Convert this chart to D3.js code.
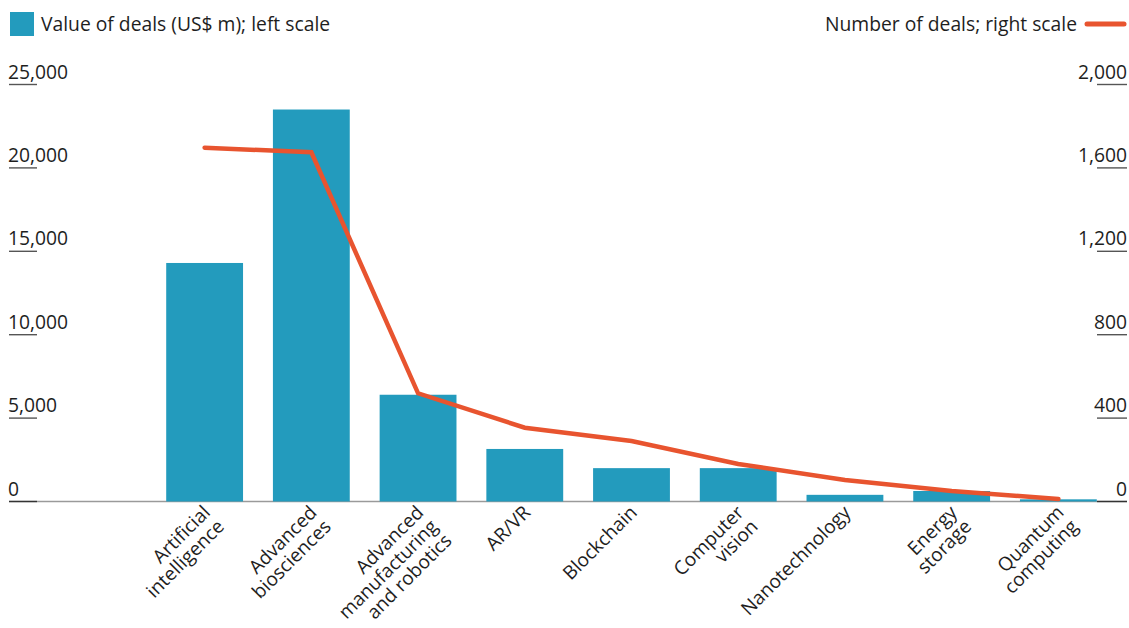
<!DOCTYPE html>
<html>
<head>
<meta charset="utf-8">
<script src="https://cdn.jsdelivr.net/npm/d3@7"></script>
<style>
  html, body { margin: 0; padding: 0; background: #fff; }
  svg { display: block; font-family: "Open Sans", "Noto Sans", sans-serif; }
  text { fill: #1e1e1e; }
</style>
</head>
<body>
<svg id="chart" width="1129" height="628"></svg>
<script>
// Emerging-technology deals by field
const categories = [
  ["Artificial", "intelligence"],
  ["Advanced", "biosciences"],
  ["Advanced", "manufacturing", "and robotics"],
  ["AR/VR"],
  ["Blockchain"],
  ["Computer", "vision"],
  ["Nanotechnology"],
  ["Energy", "storage"],
  ["Quantum", "computing"]
];
const dealValues = [14300, 23500, 6400, 3150, 2000, 2000, 400, 630, 130];   // US$ m, left scale
const dealCounts = [1697, 1675, 519, 354, 290, 180, 103, 50, 12];          // number, right scale
const leftTicks = [0, 5000, 10000, 15000, 20000, 25000];
const rightTicks = [0, 400, 800, 1200, 1600, 2000];

const barColor = "#239bbd";
const lineColor = "#e8542f";
const fs = 19.3;

const svg = d3.select("#chart");
const keys = categories.map(d => d.join(" "));

const x = d3.scaleBand()
  .domain(keys)
  .range([163, 1100])
  .paddingInner(0.28)
  .paddingOuter(0.03);

const yL = d3.scaleLinear().domain([0, 25000]).range([501.5, 84.5]);
const yR = d3.scaleLinear().domain([0, 2000]).range([501.5, 84.5]);

const fmt = d3.format(",");

// baseline
svg.append("line")
  .attr("x1", 9).attr("x2", 1127)
  .attr("y1", yL(0)).attr("y2", yL(0))
  .attr("stroke", "#9a9a9a").attr("stroke-width", 1.6);

// left axis: labels sitting on short tick rules
const left = svg.append("g").selectAll("g").data(leftTicks).join("g")
  .attr("transform", d => `translate(0,${yL(d)})`);
left.append("line")
  .attr("x1", 9).attr("x2", 37)
  .attr("stroke", d => d === 0 ? "#333" : "#555").attr("stroke-width", 1.4);
left.append("text")
  .attr("x", 8).attr("y", -6)
  .attr("font-size", fs)
  .text(d => fmt(d));

// right axis
const right = svg.append("g").selectAll("g").data(rightTicks).join("g")
  .attr("transform", d => `translate(0,${yR(d)})`);
right.append("line")
  .attr("x1", 1097).attr("x2", 1127)
  .attr("stroke", d => d === 0 ? "#333" : "#555").attr("stroke-width", 1.4);
right.append("text")
  .attr("x", 1127).attr("y", -6)
  .attr("text-anchor", "end")
  .attr("font-size", fs)
  .text(d => fmt(d));

// bars
svg.append("g").selectAll("rect").data(dealValues).join("rect")
  .attr("x", (d, i) => x(keys[i]))
  .attr("width", x.bandwidth())
  .attr("y", d => yL(d))
  .attr("height", d => yL(0) - yL(d))
  .attr("fill", barColor);

// number-of-deals line
const line = d3.line()
  .x((d, i) => x(keys[i]) + x.bandwidth() / 2)
  .y(d => yR(d));
svg.append("path")
  .datum(dealCounts)
  .attr("d", line)
  .attr("fill", "none")
  .attr("stroke", lineColor)
  .attr("stroke-width", 4.5)
  .attr("stroke-linejoin", "miter")
  .attr("stroke-linecap", "round");

// category labels, rotated
const lab = svg.append("g").selectAll("text").data(categories).join("text")
  .attr("transform", (d, i) => `translate(${x(keys[i]) + x.bandwidth() / 2 - 3},${504}) rotate(-45)`)
  .attr("text-anchor", "end")
  .attr("font-size", 19);
lab.each(function (lines) {
  const t = d3.select(this);
  lines.forEach((s, j) => {
    t.append("tspan")
      .attr("x", 0)
      .attr("dy", j === 0 ? "0.72em" : "1.05em")
      .text(s);
  });
});

// legend
svg.append("rect").attr("x", 10).attr("y", 12).attr("width", 24).attr("height", 24).attr("fill", barColor);
svg.append("text").attr("x", 41).attr("y", 31).attr("font-size", fs).text("Value of deals (US$ m); left scale");
svg.append("line")
  .attr("x1", 1087).attr("x2", 1124).attr("y1", 24).attr("y2", 24)
  .attr("stroke", lineColor).attr("stroke-width", 5).attr("stroke-linecap", "round");
svg.append("text").attr("x", 1077).attr("y", 31).attr("text-anchor", "end").attr("font-size", fs)
  .text("Number of deals; right scale");
</script>
</body>
</html>
